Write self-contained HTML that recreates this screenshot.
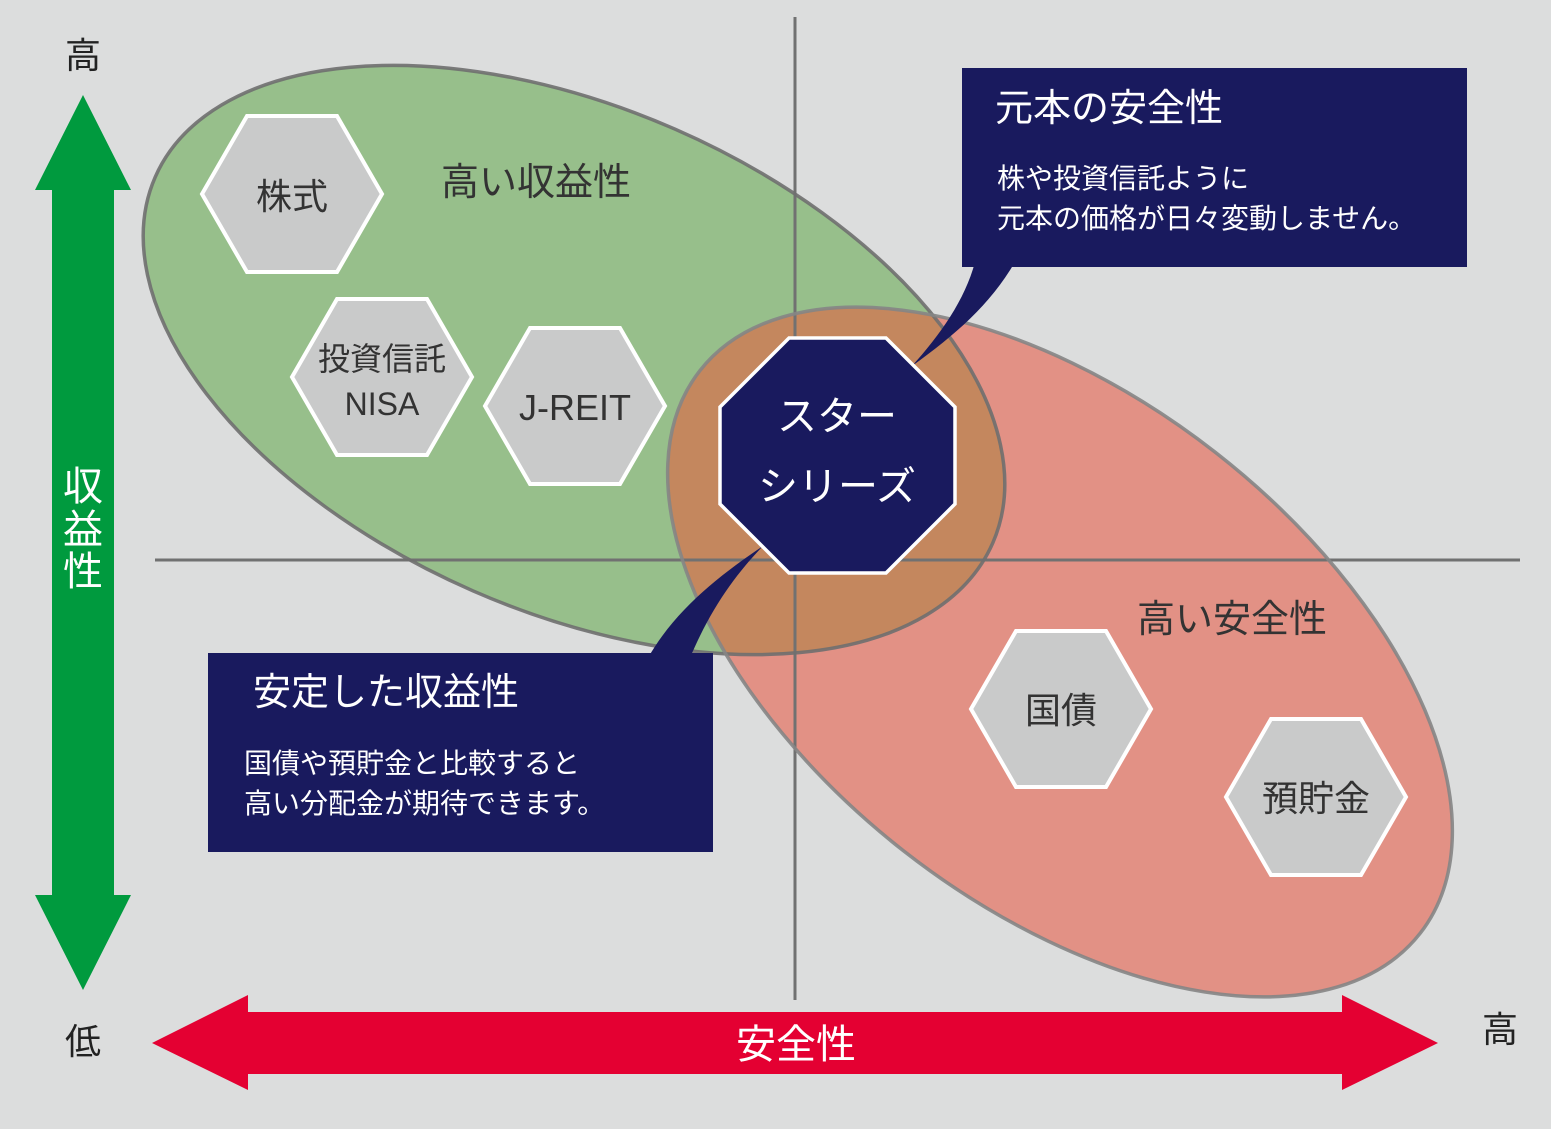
<!DOCTYPE html>
<html><head><meta charset="utf-8"><style>
html,body{margin:0;padding:0;background:#dcdddd;}
svg{display:block}
text{font-family:"Liberation Sans","Noto Sans CJK JP",sans-serif;}
</style></head><body>
<svg width="1551" height="1129" viewBox="0 0 1551 1129" xmlns="http://www.w3.org/2000/svg">
<defs>
<clipPath id="g"><ellipse cx="574" cy="360" rx="457" ry="252" transform="rotate(23.6 574 360)"/></clipPath>
</defs>
<rect width="1551" height="1129" fill="#dcdddd"/>
<ellipse cx="574" cy="360" rx="457" ry="252" transform="rotate(23.6 574 360)" fill="#97bf8b"/>
<ellipse cx="1060" cy="652" rx="457" ry="253" transform="rotate(38 1060 652)" fill="#e29185"/>
<g clip-path="url(#g)"><ellipse cx="1060" cy="652" rx="457" ry="253" transform="rotate(38 1060 652)" fill="#c4875e"/></g>
<line x1="795" y1="17" x2="795" y2="1000" stroke="#717171" stroke-width="3"/>
<line x1="155" y1="560" x2="1520" y2="560" stroke="#717171" stroke-width="3"/>
<ellipse cx="574" cy="360" rx="457" ry="252" transform="rotate(23.6 574 360)" fill="none" stroke="#6f6f6f" stroke-width="3.5" opacity="0.9"/>
<ellipse cx="1060" cy="652" rx="457" ry="253" transform="rotate(38 1060 652)" fill="none" stroke="#858585" stroke-width="3.5" opacity="0.9"/>
<polygon points="83,95 131,190 114,190 114,895 131,895 83,990 35,895 52,895 52,190 35,190" fill="#009a3e"/>
<text x="83" y="500" font-size="40" fill="#fff" text-anchor="middle">収</text>
<text x="83" y="543" font-size="40" fill="#fff" text-anchor="middle">益</text>
<text x="83" y="585" font-size="40" fill="#fff" text-anchor="middle">性</text>
<polygon points="152,1043 248,995 248,1012 1342,1012 1342,995 1438,1043 1342,1090 1342,1074 248,1074 248,1090" fill="#e40032"/>
<text x="796" y="1058" font-size="40" fill="#fff" text-anchor="middle">安全性</text>
<text x="83" y="68" font-size="36" fill="#222" text-anchor="middle">高</text>
<text x="83" y="1054" font-size="36" fill="#222" text-anchor="middle">低</text>
<text x="1500" y="1042" font-size="36" fill="#222" text-anchor="middle">高</text>
<g fill="#c9caca" stroke="#fff" stroke-width="4">
<polygon points="202,194 247,116 337,116 382,194 337,272 247,272"/>
<polygon points="292,377 337,299 427,299 472,377 427,455 337,455"/>
<polygon points="485,406 530,328 620,328 665,406 620,484 530,484"/>
<polygon points="971,709 1016,631 1106,631 1151,709 1106,787 1016,787"/>
<polygon points="1226,797 1271,719 1361,719 1406,797 1361,875 1271,875"/>
</g>
<g fill="#333" text-anchor="middle">
<text x="292" y="209" font-size="36">株式</text>
<text x="382" y="370" font-size="32">投資信託</text>
<text x="382" y="415" font-size="32">NISA</text>
<text x="575" y="420" font-size="36">J-REIT</text>
<text x="1061" y="723" font-size="36">国債</text>
<text x="1316" y="811" font-size="36">預貯金</text>
<text x="536" y="195" font-size="38">高い収益性</text>
<text x="1232" y="632" font-size="38">高い安全性</text>
</g>
<rect x="962" y="68" width="505" height="199" fill="#191a5e"/>
<path d="M975,262 L1015,262 C990,305 955,335 912,366 C940,335 965,300 975,262 Z" fill="#191a5e"/>
<rect x="208" y="653" width="505" height="199" fill="#191a5e"/>
<path d="M648,658 L690,658 C710,610 735,575 763,546 C720,575 675,610 648,658 Z" fill="#191a5e"/>
<g fill="#fff">
<text x="995" y="121" font-size="38">元本の安全性</text>
<text x="997" y="188" font-size="28">株や投資信託ように</text>
<text x="997" y="228" font-size="28">元本の価格が日々変動しません。</text>
<text x="253" y="705" font-size="38">安定した収益性</text>
<text x="244" y="773" font-size="28">国債や預貯金と比較すると</text>
<text x="244" y="813" font-size="28">高い分配金が期待できます。</text>
</g>
<polygon points="789,338 886,338 955,407 955,504 886,573 789,573 720,504 720,407" fill="#191a5e" stroke="#fff" stroke-width="3.5"/>
<g fill="#fff" text-anchor="middle" font-size="40">
<text x="837" y="430">スター</text>
<text x="837" y="500">シリーズ</text>
</g>
</svg>
</body></html>
